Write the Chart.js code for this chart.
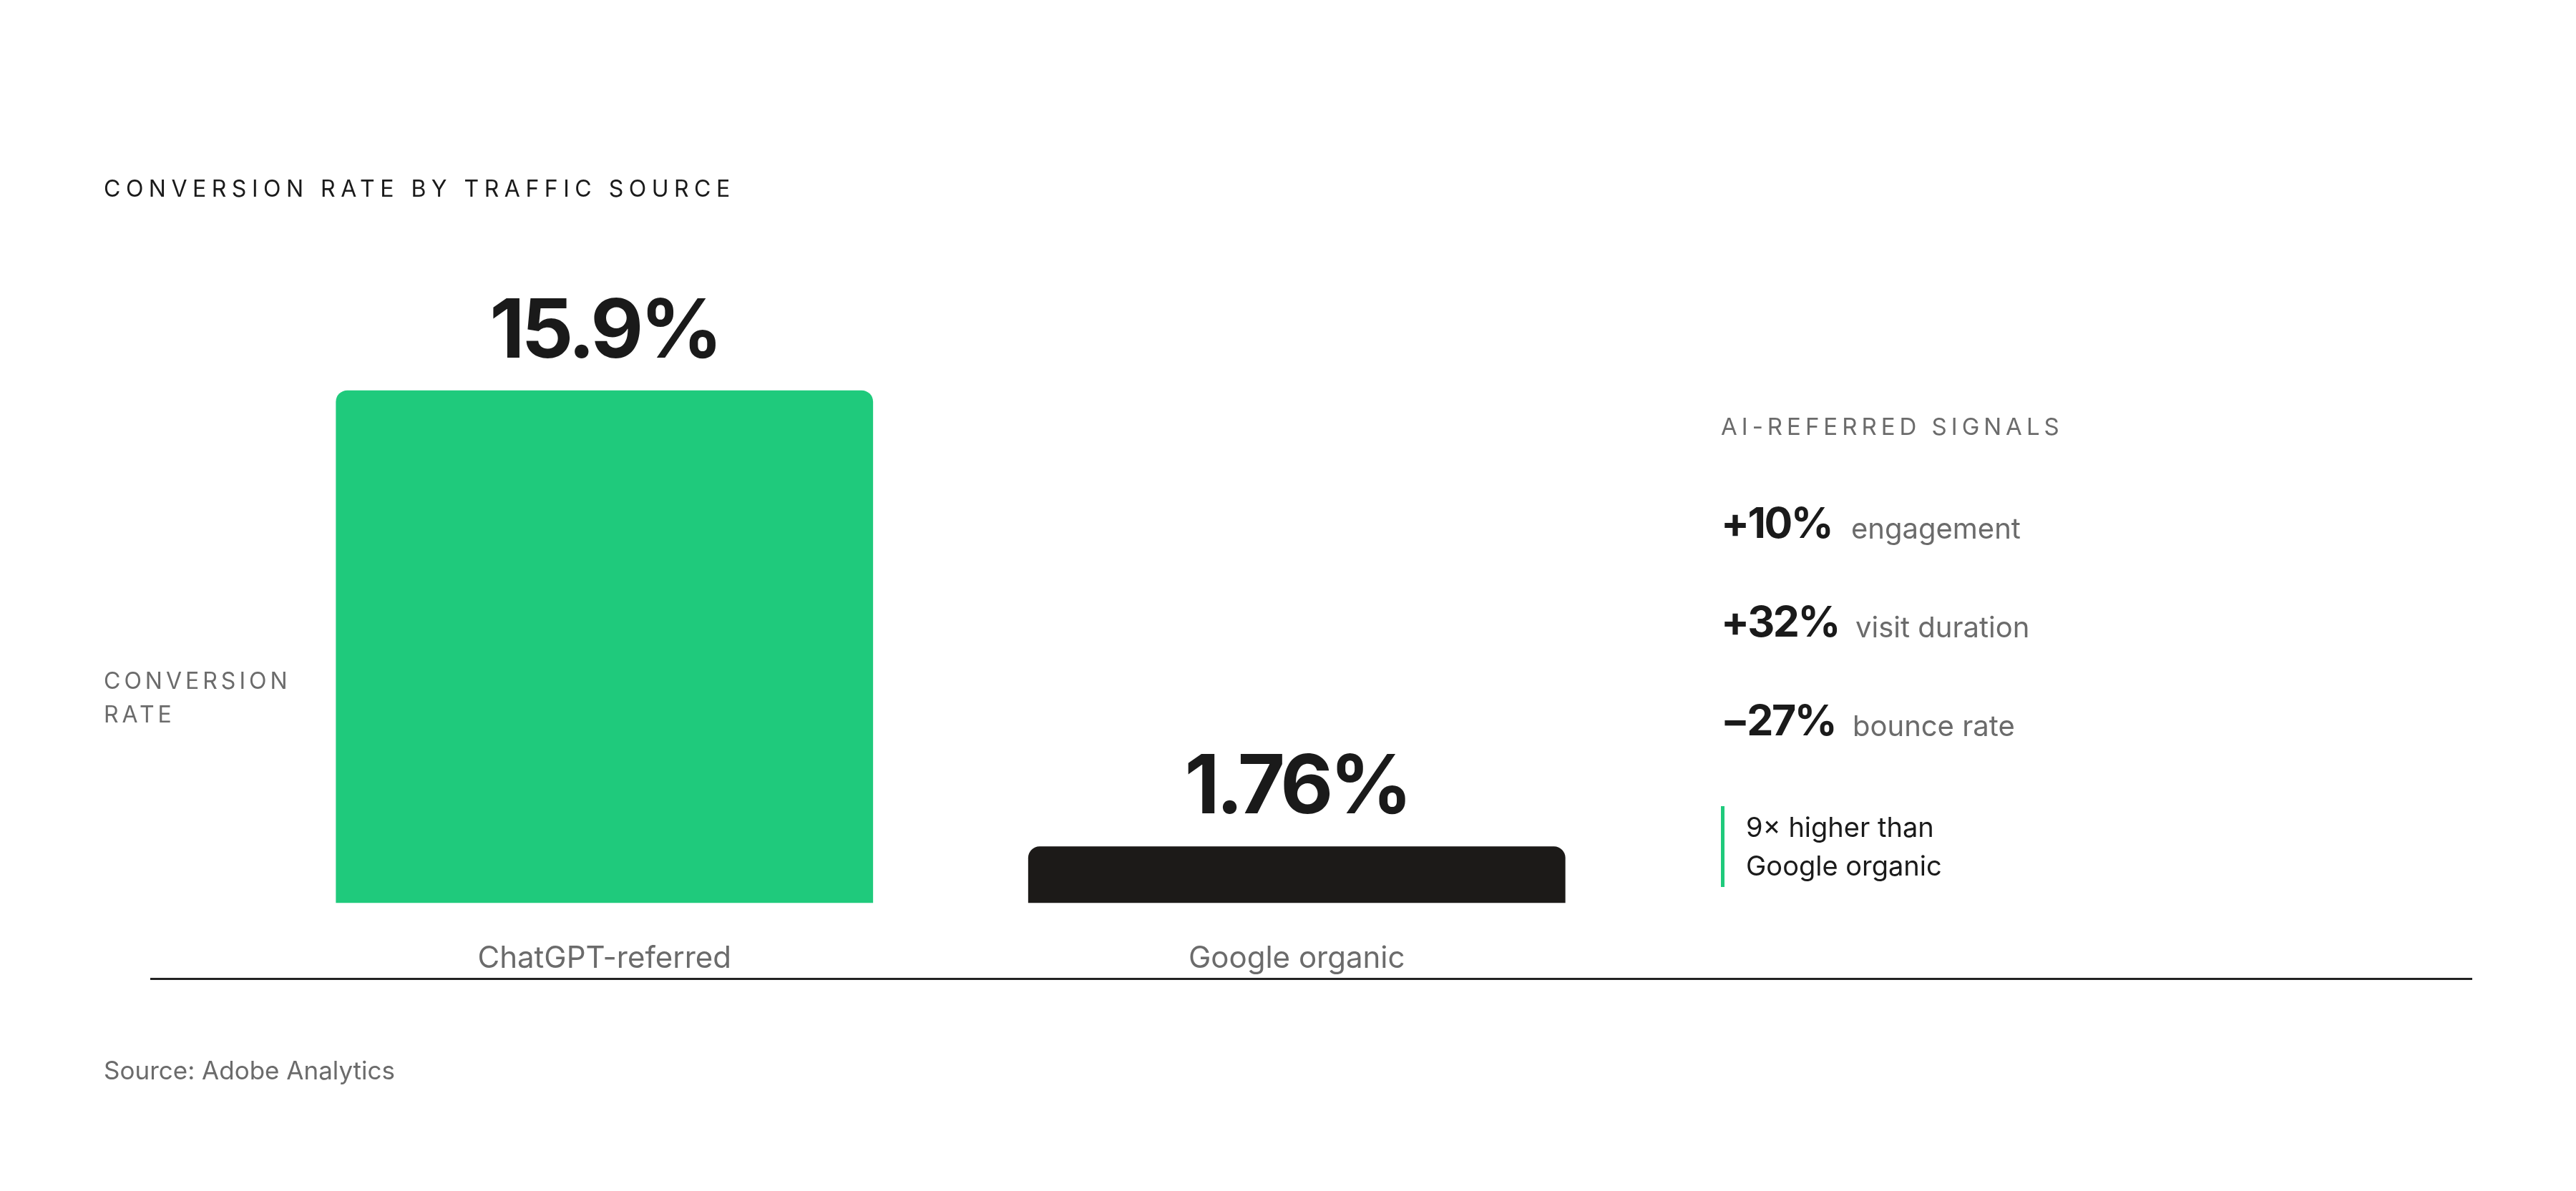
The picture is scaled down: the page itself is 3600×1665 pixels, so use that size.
<!DOCTYPE html>
<html>
<head>
<meta charset="utf-8">
<script src="https://cdn.jsdelivr.net/npm/chart.js@4.4.1/dist/chart.umd.min.js"></script>
<style>
  html, body { margin: 0; padding: 0; background: #fff; }
  body { width: 3600px; height: 1665px; position: relative; overflow: hidden; font-family: Inter, "Noto Sans", sans-serif; }
  .t { position: absolute; line-height: 1; white-space: nowrap; }
  #wrap { position: absolute; left: 0; top: 0; width: 3600px; height: 1665px; }
</style>
</head>
<body>
<div id="wrap"><canvas id="convChart"></canvas></div>

<div class="t" style="left:145px; top:248px; font-size:32px; letter-spacing:7.5px; color:#1a1a1a;">CONVERSION RATE BY TRAFFIC SOURCE</div>

<div class="t" style="left:145px; top:936px; font-size:32px; letter-spacing:5px; color:#6b6b6b;">CONVERSION</div>
<div class="t" style="left:145px; top:983px; font-size:32px; letter-spacing:5px; color:#6b6b6b;">RATE</div>

<div class="t" style="left:2405px; top:580px; font-size:33px; letter-spacing:6px; color:#6b6b6b;">AI-REFERRED SIGNALS</div>

<div id="signals"></div>

<div style="position:absolute; left:2405px; top:1127px; width:5px; height:113px; background:#1fca7c;"></div>
<div class="t" style="left:2440px; top:1137px; font-size:38px; color:#1a1a1a;">9× higher than</div>
<div class="t" style="left:2440px; top:1191px; font-size:38px; color:#1a1a1a;">Google organic</div>

<div style="position:absolute; left:210px; top:1367px; width:3245px; height:3px; background:#222;"></div>

<div class="t" style="left:145px; top:1479px; font-size:35px; color:#6b6b6b;">Source: Adobe Analytics</div>

<script>
// data
const categories = ['ChatGPT-referred', 'Google organic'];
const conversionRates = [15.9, 1.76];
const valueLabels = ['15.9%', '1.76%'];
const barColors = ['#1fca7c', '#1c1a18'];

const signalValues = ['+10%', '+32%', '−27%'];
const signalLabels = ['engagement', 'visit duration', 'bounce rate'];

// right side signals list
const signalBox = document.getElementById('signals');
const rowTops = [701, 839, 977];
const labelX = [2587, 2593, 2589];
signalValues.forEach((v, i) => {
    const num = document.createElement('div');
    num.className = 't';
    num.style.cssText = `left:2405px; top:${rowTops[i]}px; font-size:59px; font-weight:700; color:#1a1a1a; letter-spacing:-2.5px;`;
    num.textContent = v;
    signalBox.appendChild(num);
    const lab = document.createElement('div');
    lab.className = 't';
    lab.style.cssText = `left:${labelX[i]}px; top:${rowTops[i] + 18}px; font-size:40px; color:#6b6b6b;`;
    lab.textContent = signalLabels[i];
    signalBox.appendChild(lab);
});

// value labels above bars
const valueLabelPlugin = {
    id: 'valueLabels',
    afterDatasetsDraw(chart) {
        const ctx = chart.ctx;
        const meta = chart.getDatasetMeta(0);
        ctx.save();
        ctx.font = '700 114px Inter, "Noto Sans", sans-serif';
        ctx.fillStyle = '#1a1a1a';
        ctx.textAlign = 'center';
        ctx.textBaseline = 'alphabetic';
        if ('letterSpacing' in ctx) ctx.letterSpacing = '-5px';
        meta.data.forEach((bar, i) => {
            ctx.fillText(valueLabels[i], bar.x, bar.y - 46);
        });
        ctx.restore();
    }
};

const ctx = document.getElementById('convChart').getContext('2d');
const convChart = new Chart(ctx, {
    type: 'bar',
    data: {
        labels: categories,
        datasets: [{
            data: conversionRates,
            backgroundColor: barColors,
            borderRadius: 16,
            borderSkipped: 'start',
            barPercentage: 0.776,
            categoryPercentage: 1.0
        }]
    },
    options: {
        responsive: true,
        maintainAspectRatio: false,
        animation: false,
        devicePixelRatio: 1,
        layout: {
            padding: { left: 361, right: 1304, top: 451, bottom: 246 }
        },
        scales: {
            x: {
                grid: { display: false, drawTicks: false },
                border: { display: false },
                ticks: {
                    color: '#6b6b6b',
                    padding: 53,
                    font: { family: 'Inter, "Noto Sans", sans-serif', size: 42 }
                }
            },
            y: {
                display: false,
                min: 0,
                max: 18
            }
        },
        plugins: {
            legend: { display: false },
            tooltip: { enabled: false }
        }
    },
    plugins: [valueLabelPlugin]
});
</script>
</body>
</html>
